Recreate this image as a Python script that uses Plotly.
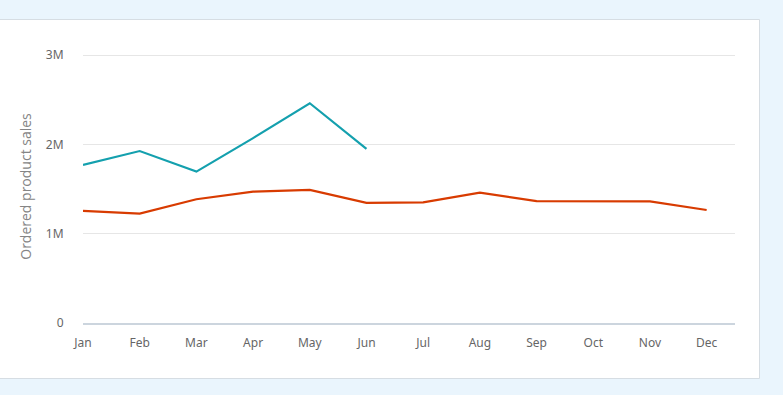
import plotly.graph_objects as go

months = ["Jan", "Feb", "Mar", "Apr", "May", "Jun", "Jul", "Aug", "Sep", "Oct", "Nov", "Dec"]
current_year = [1770000, 1925000, 1695000, 2070000, 2460000, 1950000]
previous_year = [1255000, 1225000, 1385000, 1470000, 1490000, 1345000,
                 1350000, 1460000, 1365000, 1365000, 1362000, 1265000]
y_tickvals = [0, 1000000, 2000000, 3000000]
y_ticktext = ["0", "1M", "2M", "3M"]

fig = go.Figure()
fig.add_trace(go.Scatter(x=months[:len(previous_year)], y=previous_year, mode="lines",
                         line=dict(color="#d83b01", width=2.2), name="Previous year",
                         hoverinfo="x+y"))
fig.add_trace(go.Scatter(x=months[:len(current_year)], y=current_year, mode="lines",
                         line=dict(color="#14a0ae", width=2.2), name="Current year",
                         hoverinfo="x+y"))

L, R, T, B = 83, 48, 50, 72
W, H = 783, 395
pw, ph = W - L - R, H - T - B
y_top = 3000000 * ph / (ph - 5)

def px_x(x):
    return (x - L) / pw

def px_y(y):
    return (H - B - y) / ph

fig.update_layout(
    width=W, height=H,
    margin=dict(l=L, r=R, t=T, b=B, pad=0),
    paper_bgcolor="#eaf5fd",
    plot_bgcolor="white",
    showlegend=False,
    font=dict(family="Noto Sans, Open Sans, sans-serif", size=12, color="#666666"),
    shapes=[dict(type="rect", xref="paper", yref="paper", layer="below",
                 x0=px_x(-2), x1=px_x(759.5), y0=px_y(378.5), y1=px_y(19.5),
                 fillcolor="white", line=dict(color="#d6dde3", width=1))],
    xaxis=dict(type="category", categoryorder="array", categoryarray=months,
               range=[0, 11.5], showgrid=False, zeroline=False,
               showline=True, linecolor="#ccd5de", linewidth=2,
               ticks="outside", ticklen=8, tickcolor="rgba(0,0,0,0)",
               tickfont=dict(size=12, color="#666666"), fixedrange=True),
    yaxis=dict(range=[0, y_top], tickvals=y_tickvals, ticktext=y_ticktext,
               showgrid=True, gridcolor="#e6e6e6", gridwidth=1, zeroline=False,
               showline=False, ticks="outside", ticklen=16, tickcolor="rgba(0,0,0,0)",
               tickfont=dict(size=12, color="#666666"),
               title=dict(text="Ordered product sales",
                          font=dict(family="Open Sans, Noto Sans, sans-serif", size=14, color="#858585"),
                          standoff=10), fixedrange=True),
)

fig.write_html("out.html")
